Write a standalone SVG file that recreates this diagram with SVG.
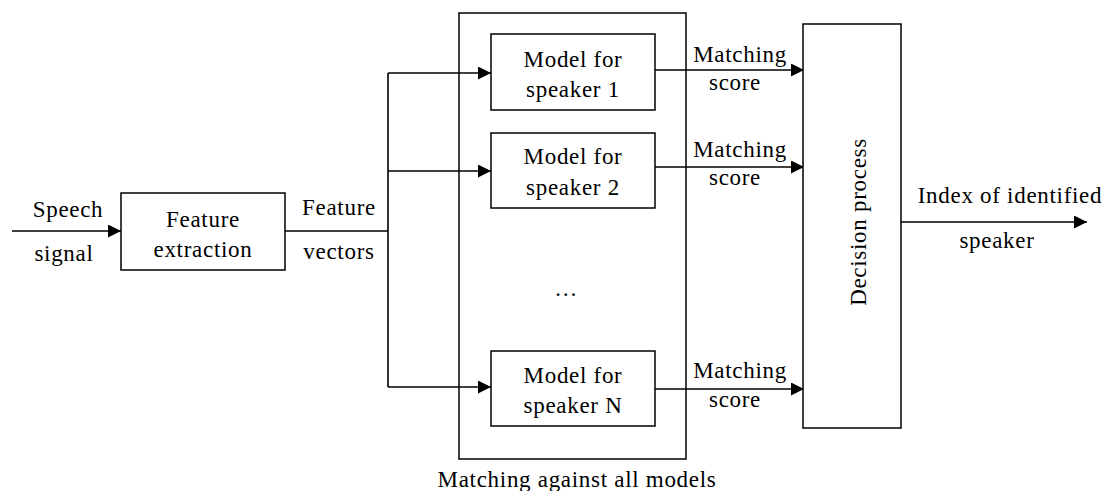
<svg xmlns="http://www.w3.org/2000/svg" width="1111" height="491" viewBox="0 0 1111 491">
<style>
  .box { fill: #fff; stroke: #000; stroke-width: 1.5; }
  .ln { fill: none; stroke: #000; stroke-width: 1.6; }
  .t { font-family: 'Liberation Serif', 'DejaVu Serif', serif; font-size: 23px; fill: #000; letter-spacing: 0.7px; text-anchor: middle; }
</style>
<defs>
  <marker id="arr" markerWidth="13" markerHeight="13" refX="13" refY="6.5" orient="auto" markerUnits="userSpaceOnUse">
    <path d="M0,0 L13,6.5 L0,13 Z" fill="#000"/>
  </marker>
</defs>
<rect width="1111" height="491" fill="#fff"/>
<g id="matching-group">
  <rect class="box" x="459" y="13" width="227" height="446"/>
  <text class="t" font-family="Liberation Serif" x="577" y="487">Matching against all models</text>
</g>
<g id="connectors">
  <line class="ln" x1="12" y1="231" x2="121" y2="231" marker-end="url(#arr)"/>
  <polyline class="ln" points="285,231 388,231"/>
  <line class="ln" x1="388" y1="73" x2="388" y2="387"/>
  <line class="ln" x1="388" y1="73" x2="491" y2="73" marker-end="url(#arr)"/>
  <line class="ln" x1="388" y1="171" x2="491" y2="171" marker-end="url(#arr)"/>
  <line class="ln" x1="388" y1="387" x2="491" y2="387" marker-end="url(#arr)"/>
  <line class="ln" x1="655" y1="70" x2="804" y2="70" marker-end="url(#arr)"/>
  <line class="ln" x1="655" y1="167" x2="804" y2="167" marker-end="url(#arr)"/>
  <line class="ln" x1="655" y1="389" x2="804" y2="389" marker-end="url(#arr)"/>
  <line class="ln" x1="901" y1="222" x2="1087" y2="222" marker-end="url(#arr)"/>
  <text class="t" font-family="Liberation Serif" x="68" y="217">Speech</text>
  <text class="t" font-family="Liberation Serif" x="64" y="261">signal</text>
  <text class="t" font-family="Liberation Serif" x="339" y="215">Feature</text>
  <text class="t" font-family="Liberation Serif" x="339" y="259">vectors</text>
  <text class="t" font-family="Liberation Serif" x="740" y="62">Matching</text>
  <text class="t" font-family="Liberation Serif" x="735" y="90">score</text>
  <text class="t" font-family="Liberation Serif" x="740" y="157">Matching</text>
  <text class="t" font-family="Liberation Serif" x="735" y="185">score</text>
  <text class="t" font-family="Liberation Serif" x="740" y="378">Matching</text>
  <text class="t" font-family="Liberation Serif" x="735" y="407">score</text>
  <text class="t" font-family="Liberation Serif" x="1010" y="203">Index of identified</text>
  <text class="t" font-family="Liberation Serif" x="997" y="248">speaker</text>
</g>
<g id="feature-extraction">
  <rect class="box" x="121" y="193" width="164" height="77"/>
  <text class="t" font-family="Liberation Serif" x="203" y="227">Feature</text>
  <text class="t" font-family="Liberation Serif" x="203" y="257">extraction</text>
</g>
<g id="model-1">
  <rect class="box" x="491" y="34" width="164" height="76"/>
  <text class="t" font-family="Liberation Serif" x="573" y="67">Model for</text>
  <text class="t" font-family="Liberation Serif" x="573" y="97">speaker 1</text>
</g>
<g id="model-2">
  <rect class="box" x="491" y="133" width="164" height="75"/>
  <text class="t" font-family="Liberation Serif" x="573" y="164">Model for</text>
  <text class="t" font-family="Liberation Serif" x="573" y="195">speaker 2</text>
</g>
<g id="ellipsis">
  <text class="t" font-family="Liberation Serif" x="566" y="296">…</text>
</g>
<g id="model-n">
  <rect class="box" x="491" y="351" width="164" height="75"/>
  <text class="t" font-family="Liberation Serif" x="573" y="383">Model for</text>
  <text class="t" font-family="Liberation Serif" x="573" y="413">speaker N</text>
</g>
<g id="decision">
  <rect class="box" x="803" y="24" width="98" height="404"/>
  <text class="t" font-family="Liberation Serif" x="866" y="222" transform="rotate(-90 866 222)">Decision process</text>
</g>
</svg>
